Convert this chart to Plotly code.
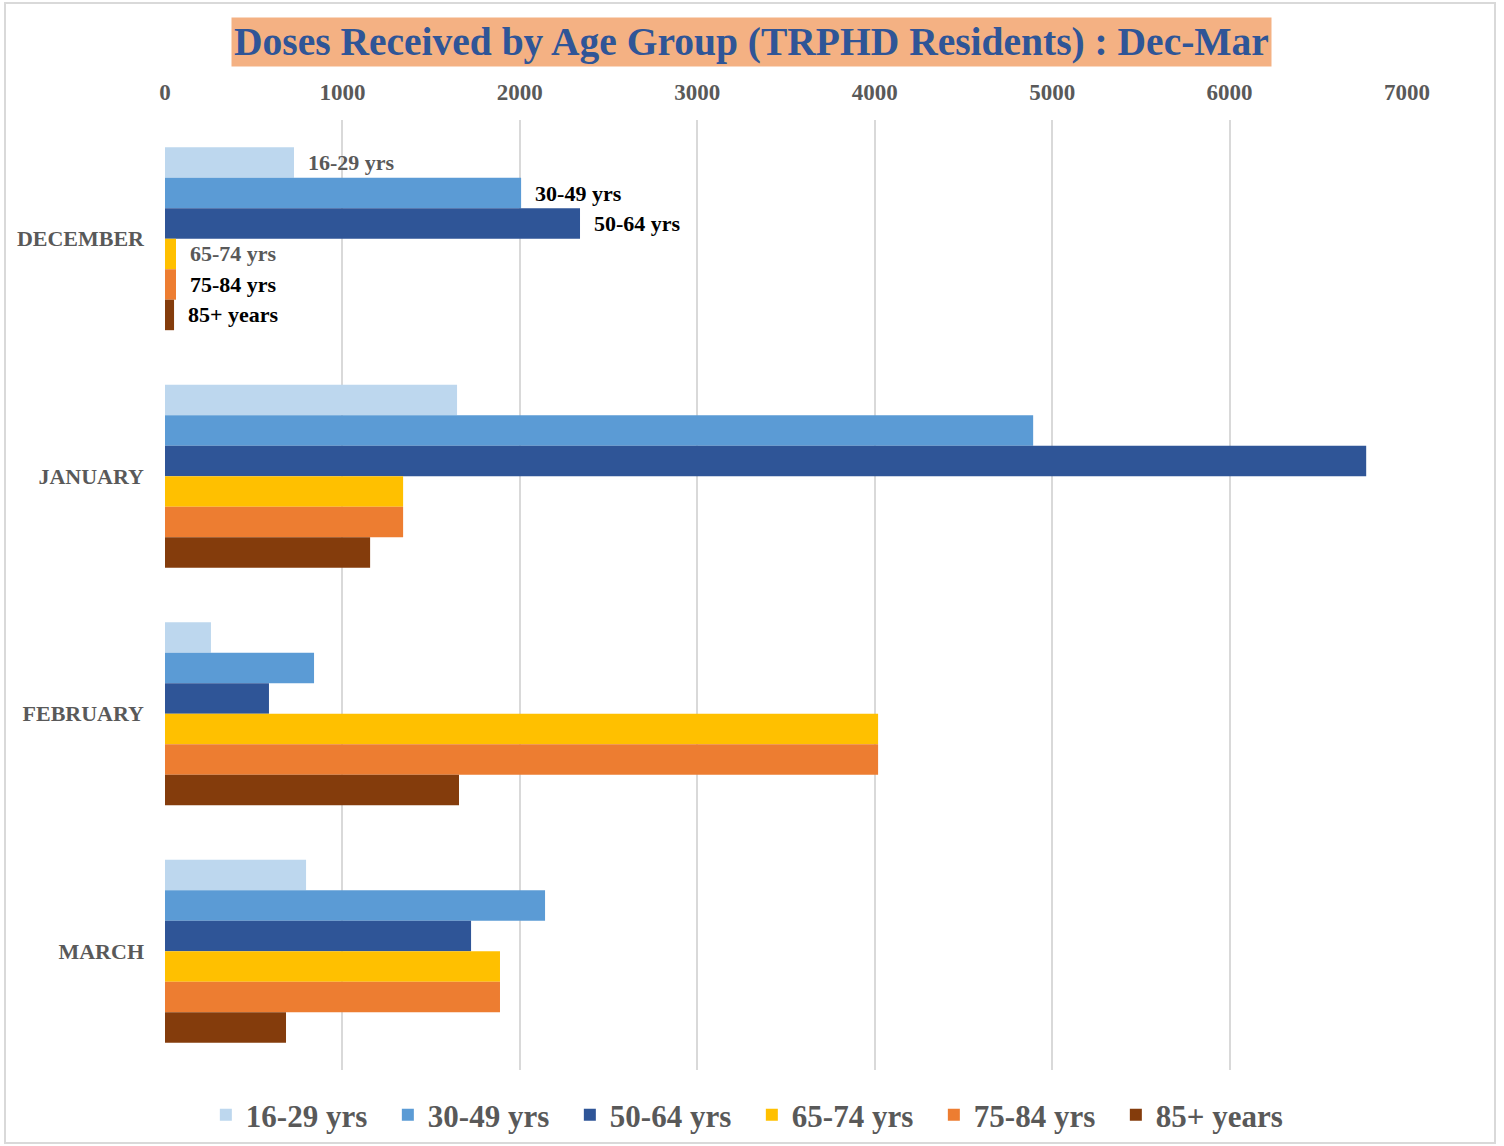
import plotly.graph_objects as go

months = ["DECEMBER", "JANUARY", "FEBRUARY", "MARCH"]
series_names = ["16-29 yrs", "30-49 yrs", "50-64 yrs", "65-74 yrs", "75-84 yrs", "85+ years"]
v_16_29 = [727, 1646, 259, 795]
v_30_49 = [2007, 4893, 840, 2142]
v_50_64 = [2339, 6770, 586, 1725]
v_65_74 = [62, 1342, 4019, 1888]
v_75_84 = [62, 1342, 4019, 1888]
v_85 = [51, 1156, 1657, 682]
x_ticks = [0, 1000, 2000, 3000, 4000, 5000, 6000, 7000]

values = [v_16_29, v_30_49, v_50_64, v_65_74, v_75_84, v_85]
colors = ["#BDD7EE", "#5B9BD5", "#2F5597", "#FFC000", "#ED7D31", "#843C0C"]
label_colors = ["#595959", "#000000", "#000000", "#595959", "#000000", "#000000"]

SERIF = "Liberation Serif"
fig = go.Figure()
for name, vals, col, lc in zip(series_names, values, colors, label_colors):
    texts = ["\u00a0\u00a0" + name] + [""] * (len(months) - 1)
    fig.add_trace(go.Bar(
        y=months, x=vals, name=name, orientation="h",
        marker=dict(color=col, line=dict(width=0)),
        text=texts, textposition="outside", constraintext="none",
        textfont=dict(family=SERIF, size=22, color=lc, weight="bold"),
        cliponaxis=False, hoverinfo="x+name",
    ))

fig.update_layout(
    width=1504, height=1146,
    margin=dict(l=165, r=97, t=120, b=76, autoexpand=False),
    paper_bgcolor="white", plot_bgcolor="white",
    barmode="group", bargap=0.23, bargroupgap=0,
    font=dict(family=SERIF, color="#595959"),
    xaxis=dict(side="top", range=[0, 7000], tickvals=x_ticks,
               showgrid=True, gridcolor="#D9D9D9", gridwidth=2,
               zeroline=False, showline=False, ticks="",
               tickfont=dict(family=SERIF, size=23, color="#595959", weight="bold"),
               ticklabelstandoff=14),
    yaxis=dict(autorange="reversed", showgrid=False, showline=False, ticks="",
               tickfont=dict(family=SERIF, size=22, color="#595959", weight="bold"),
               ticklabelstandoff=20),
    legend=dict(orientation="h", x=0.4725, xanchor="center",
                yref="container", y=(1146 - 1115) / 1146, yanchor="middle",
                font=dict(family=SERIF, size=31, color="#595959", weight="bold"),
                bgcolor="rgba(0,0,0,0)",
                itemwidth=30, entrywidth=137, entrywidthmode="pixels",
                traceorder="normal", tracegroupgap=0),
    showlegend=True,
)

fig.add_annotation(
    text="<b>Doses Received by Age Group (TRPHD Residents) : Dec-Mar</b>",
    xref="paper", yref="paper", x=(751 - 165) / 1242, y=(1070 - 42) / 950,
    xanchor="center", yanchor="middle", showarrow=False,
    font=dict(family=SERIF, size=39.5, color="#2F5597"),
    bgcolor="#F4B183", borderpad=2,
)

fig.add_shape(type="rect", xref="paper", yref="paper",
              x0=(5 - 165) / 1242, x1=(1495 - 165) / 1242,
              y0=(1070 - 1143) / 950, y1=(1070 - 3) / 950,
              line=dict(color="#D9D9D9", width=2), layer="below")

fig.write_html("out.html", config={"displayModeBar": False},
               post_script="document.body.style.margin='0';")
